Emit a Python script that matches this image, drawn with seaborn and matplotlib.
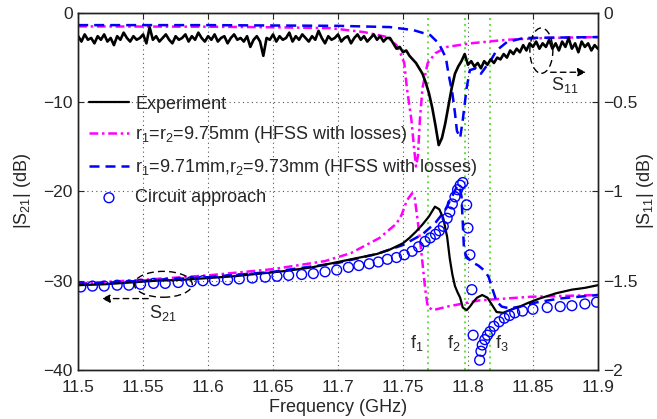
import warnings
warnings.filterwarnings('ignore')
import numpy as np
import matplotlib
matplotlib.use('Agg')
from matplotlib import pyplot as plt
from matplotlib.patches import Ellipse
import seaborn as sns

sns.set_style('white')
plt.rcParams['font.family'] = ['Liberation Sans', 'DejaVu Sans']
plt.rcParams['mathtext.fontset'] = 'custom'
plt.rcParams['mathtext.rm'] = 'Liberation Sans'
plt.rcParams['mathtext.it'] = 'Liberation Sans'

# ---- |S21| (left axis, dB) ----
exp21_f = [11.5, 11.52, 11.54, 11.56, 11.58, 11.6, 11.62, 11.64, 11.66, 11.68, 11.7, 11.71, 11.72,
           11.73, 11.74, 11.75, 11.755, 11.76, 11.765, 11.77, 11.7746, 11.778, 11.781, 11.784,
           11.786, 11.788, 11.79, 11.792, 11.794, 11.796, 11.799, 11.8015, 11.804, 11.807, 11.811,
           11.815, 11.8185, 11.822, 11.827, 11.832, 11.84, 11.846, 11.855, 11.868, 11.88, 11.89, 11.9]
exp21_db = [-30.5, -30.4, -30.2, -30.0, -29.9, -29.7, -29.5, -29.2, -28.9, -28.5, -27.9, -27.6, -27.3,
            -27.0, -26.5, -25.8, -25.2, -24.5, -23.7, -22.8, -21.7, -22.0, -23.0, -25.1,
            -27.5, -29.3, -30.6, -31.3, -31.9, -33.0, -33.3, -32.9, -32.4, -31.9, -31.6,
            -31.9, -32.7, -33.5, -33.6, -33.3, -32.9, -32.5, -32.0, -31.4, -31.0, -30.8, -30.5]

mag21_f = [11.5, 11.55, 11.6, 11.65, 11.69, 11.71, 11.732, 11.745, 11.749, 11.753, 11.757, 11.759,
           11.761, 11.763, 11.765, 11.767, 11.769, 11.773, 11.784, 11.809, 11.848, 11.9]
mag21_db = [-30.3, -29.9, -29.4, -28.7, -27.8, -26.9, -25.2, -23.6, -22.6, -21.0, -20.2, -20.7,
            -22.9, -25.3, -28.0, -30.8, -32.9, -33.3, -32.9, -32.2, -31.8, -31.6]

blu21_f = [11.5, 11.55, 11.6, 11.65, 11.7, 11.73, 11.75, 11.765, 11.775, 11.782, 11.787, 11.791,
           11.793, 11.795, 11.796, 11.797, 11.799, 11.803, 11.808, 11.813, 11.816, 11.819, 11.822,
           11.826, 11.832, 11.84, 11.85, 11.87, 11.9]
blu21_db = [-30.4, -30.0, -29.6, -29.0, -28.0, -27.0, -26.0, -24.8, -23.5, -22.2, -20.8, -19.6,
            -19.3, -20.5, -23.5, -26.6, -27.3, -27.9, -28.3, -28.9, -29.6, -31.0, -32.3,
            -32.9, -33.1, -32.9, -32.5, -32.0, -31.6]

circ_f = [11.502, 11.511, 11.520, 11.530, 11.539, 11.548, 11.558, 11.567, 11.577, 11.587, 11.596,
          11.605, 11.615, 11.624, 11.634, 11.644, 11.653, 11.662, 11.672, 11.681, 11.690, 11.699,
          11.708, 11.716, 11.724, 11.731, 11.738, 11.745, 11.751, 11.757, 11.762, 11.767, 11.771,
          11.775, 11.778, 11.781, 11.784, 11.786, 11.788, 11.790, 11.792, 11.794, 11.796, 11.799,
          11.800, 11.8015, 11.803, 11.804, 11.809, 11.810, 11.811, 11.813, 11.815, 11.817, 11.820,
          11.824, 11.828, 11.832, 11.836, 11.842, 11.850, 11.861, 11.871, 11.880, 11.890, 11.899]
circ_db = [-30.7, -30.6, -30.6, -30.5, -30.5, -30.4, -30.3, -30.3, -30.2, -30.1, -30.0,
           -30.0, -29.9, -29.8, -29.7, -29.6, -29.5, -29.4, -29.3, -29.2, -29.0, -28.8,
           -28.5, -28.3, -28.1, -27.9, -27.6, -27.4, -27.1, -26.7, -26.2, -25.6, -25.2,
           -24.8, -24.4, -23.9, -23.0, -22.3, -21.4, -20.6, -19.8, -19.3, -19.0, -21.5,
           -24.1, -27.1, -31.0, -36.1, -38.9, -37.9, -37.2, -36.6, -36.1, -35.7, -35.1,
           -34.6, -34.2, -33.9, -33.6, -33.4, -33.2, -33.0, -32.9, -32.8, -32.6, -32.4]

# ---- |S11| (right axis, dB) ----
exp11_f = np.linspace(11.5, 11.9, 161)   # measured sweep, 2.5 MHz step
exp11_db = [-0.13, -0.16, -0.12, -0.15, -0.14, -0.17, -0.13, -0.15, -0.12, -0.16,
            -0.14, -0.18, -0.13, -0.15, -0.11, -0.14, -0.16, -0.13, -0.15, -0.14,
            -0.12, -0.17, -0.08, -0.15, -0.13, -0.16, -0.14, -0.12, -0.15, -0.17,
            -0.13, -0.15, -0.14, -0.12, -0.16, -0.13, -0.15, -0.11, -0.14, -0.16,
            -0.13, -0.15, -0.12, -0.16, -0.14, -0.13, -0.17, -0.14, -0.12, -0.15,
            -0.14, -0.16, -0.13, -0.19, -0.15, -0.13, -0.16, -0.24, -0.14, -0.15,
            -0.12, -0.16, -0.13, -0.15, -0.14, -0.11, -0.16, -0.13, -0.15, -0.12,
            -0.14, -0.16, -0.13, -0.15, -0.10, -0.14, -0.17, -0.13, -0.15, -0.14,
            -0.12, -0.16, -0.14, -0.13, -0.17, -0.14, -0.12, -0.15, -0.13, -0.16,
            -0.14, -0.12, -0.15, -0.13, -0.16, -0.14, -0.14, -0.17, -0.20, -0.19,
            -0.22, -0.21, -0.24, -0.26, -0.28, -0.31, -0.34, -0.39, -0.45, -0.53,
            -0.63, -0.74, -0.70, -0.62, -0.52, -0.42, -0.34, -0.30, -0.27, -0.23,
            -0.29, -0.27, -0.30, -0.28, -0.31, -0.27, -0.29, -0.26, -0.28, -0.25,
            -0.26, -0.23, -0.25, -0.21, -0.23, -0.20, -0.22, -0.18, -0.21, -0.17,
            -0.19, -0.16, -0.20, -0.17, -0.19, -0.15, -0.20, -0.17, -0.21, -0.16,
            -0.19, -0.14, -0.20, -0.17, -0.22, -0.16, -0.19, -0.17, -0.21, -0.18,
            -0.20]

mag11_f = [11.5, 11.6, 11.65, 11.694, 11.72, 11.738, 11.745, 11.748, 11.751, 11.753, 11.7565,
           11.7585, 11.760, 11.7615, 11.763, 11.765, 11.769, 11.775, 11.784, 11.802, 11.83, 11.86, 11.9]
mag11_db = [-0.075, -0.077, -0.08, -0.085, -0.107, -0.135, -0.18, -0.225, -0.28, -0.42, -0.60,
            -0.755, -0.86, -0.80, -0.60, -0.42, -0.28, -0.225, -0.19, -0.17, -0.15, -0.14, -0.135]

blu11_f = [11.5, 11.6, 11.7, 11.74, 11.758, 11.771, 11.7775, 11.783, 11.785, 11.788, 11.790,
           11.7915, 11.794, 11.796, 11.799, 11.8015, 11.806, 11.810, 11.814, 11.818, 11.822,
           11.830, 11.843, 11.9]
blu11_db = [-0.068, -0.068, -0.072, -0.079, -0.096, -0.124, -0.17, -0.25, -0.34, -0.45, -0.56,
            -0.66, -0.70, -0.60, -0.42, -0.32, -0.31, -0.34, -0.30, -0.26, -0.21,
            -0.163, -0.14, -0.135]

f_marks = [11.7692, 11.7977, 11.8169]
f_names = ['f$_1$', 'f$_2$', 'f$_3$']
f_text_x = [11.7608, 11.7892, 11.8262]

labels = ['Experiment', 'r$_1$=r$_2$=9.75mm (HFSS with losses)',
          'r$_1$=9.71mm,r$_2$=9.73mm (HFSS with losses)', 'Circuit approach']

MAG = '#ff00ff'
BLU = '#0000ff'
dashdot = (0, (3.5, 1.5, 1.0, 1.5))
dashed = (0, (4.0, 2.4))

fig, ax = plt.subplots(figsize=(6.57, 4.19), dpi=100)
fig.subplots_adjust(left=0.119, right=0.910, bottom=0.117, top=0.969)
ax2 = ax.twinx()

for f in f_marks:
    ax.axvline(f, color='#66dd44', ls=(0, (1, 2)), lw=1.4, zorder=1)

sns.lineplot(x=mag21_f, y=mag21_db, ax=ax, color=MAG, lw=1.8, linestyle=dashdot,
             sort=False, estimator=None, legend=False, label=labels[1])
sns.lineplot(x=blu21_f, y=blu21_db, ax=ax, color=BLU, lw=1.8, linestyle=dashed,
             sort=False, estimator=None, legend=False, label=labels[2])
sns.lineplot(x=exp21_f, y=exp21_db, ax=ax, color='k', lw=1.6,
             sort=False, estimator=None, legend=False, label=labels[0])
sns.scatterplot(x=circ_f, y=circ_db, ax=ax, marker='o', s=50, color=BLU, facecolor='none',
                edgecolor=BLU, linewidth=1.0, legend=False, label=labels[3], zorder=5)

sns.lineplot(x=mag11_f, y=mag11_db, ax=ax2, color=MAG, lw=1.8, linestyle=dashdot,
             sort=False, estimator=None, legend=False)
sns.lineplot(x=blu11_f, y=blu11_db, ax=ax2, color=BLU, lw=1.8, linestyle=dashed,
             sort=False, estimator=None, legend=False)
sns.lineplot(x=exp11_f, y=exp11_db, ax=ax2, color='k', lw=1.9,
             sort=False, estimator=None, legend=False)

ax.set_xlim(11.5, 11.9)
ax.set_ylim(-40, 0)
ax2.set_ylim(-2, 0)
xt = [11.5, 11.55, 11.6, 11.65, 11.7, 11.75, 11.8, 11.85, 11.9]
ax.set_xticks(xt)
ax.set_xticklabels(['11.5', '11.55', '11.6', '11.65', '11.7', '11.75', '11.8', '11.85', '11.9'])
ax.set_yticks([0, -10, -20, -30, -40])
ax.set_yticklabels(['0', '\u221210', '\u221220', '\u221230', '\u221240'])
ax2.set_yticks([0, -0.5, -1, -1.5, -2])
ax2.set_yticklabels(['0', '\u22120.5', '\u22121', '\u22121.5', '\u22122'])

ax.grid(True, ls=(0, (1, 3)), color='#555555', lw=0.8)
ax.tick_params(direction='in', top=True, right=False, labelsize=12.5, length=4, pad=4)
ax.tick_params(axis='x', pad=7)
ax2.tick_params(direction='in', labelsize=12.5, length=4, pad=4)
for a in (ax, ax2):
    for s in a.spines.values():
        s.set_color('#222222')
        s.set_linewidth(1.0)

ax.set_xlabel('Frequency (GHz)', fontsize=13, labelpad=3)
ax.set_ylabel('|S$_{21}$| (dB)', fontsize=13, labelpad=7)
ax2.set_ylabel('|S$_{11}$| (dB)', fontsize=13, rotation=90, labelpad=-2)

for x, name in zip(f_text_x, f_names):
    ax.text(x, -37.0, name, fontsize=13, ha='center', va='center')

# S21 annotation
ax.add_patch(Ellipse((11.5655, -30.4), 0.0446, 2.9, fill=False, ec='k', lw=1.0, ls=(0, (5, 3)), zorder=6))
ax.annotate('', xy=(11.516, -32.0), xytext=(11.556, -32.0),
            arrowprops=dict(arrowstyle='-|>', color='k', lw=1.0, ls=(0, (4, 3)), mutation_scale=12))
ax.text(11.5654, -33.6, 'S$_{21}$', fontsize=13, ha='center', va='center')

# S11 annotation
ax2.add_patch(Ellipse((11.8565, -0.211), 0.0177, 0.254, fill=False, ec='k', lw=1.0, ls=(0, (5, 3)), zorder=6))
ax2.annotate('', xy=(11.893, -0.332), xytext=(11.8615, -0.332),
             arrowprops=dict(arrowstyle='-|>', color='k', lw=1.0, ls=(0, (4, 3)), mutation_scale=12))
ax2.text(11.8746, -0.405, 'S$_{11}$', fontsize=13, ha='center', va='center')

h, l = ax.get_legend_handles_labels()
order = [l.index(t) for t in labels]
ax2.legend([h[i] for i in order], [l[i] for i in order], loc='upper left',
           bbox_to_anchor=(0.021, 0.768), frameon=False, fontsize=13, handlelength=2.2,
           handletextpad=0.35, labelspacing=0.64, borderpad=0, borderaxespad=0)

plt.savefig('out.png', dpi=100)
